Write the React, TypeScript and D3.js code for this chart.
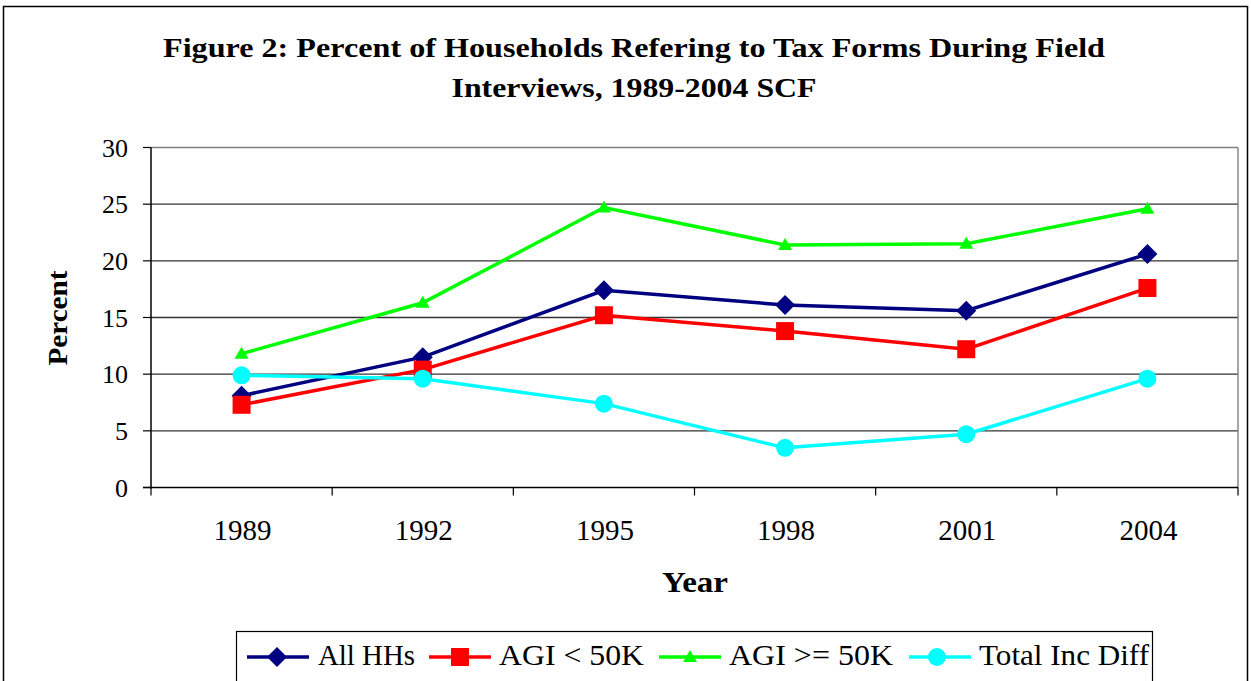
import React from "react";
import * as d3 from "d3";

const years = ["1989", "1992", "1995", "1998", "2001", "2004"];
const allHHs = [8.1, 11.5, 17.4, 16.1, 15.6, 20.6];
const agiLow = [7.3, 10.4, 15.2, 13.8, 12.2, 17.6];
const agiHigh = [11.8, 16.3, 24.7, 21.4, 21.5, 24.6];
const totalIncDiff = [9.9, 9.6, 7.4, 3.5, 4.7, 9.6];
const yTicks = [0, 5, 10, 15, 20, 25, 30];

const seriesNames = ["All HHs", "AGI < 50K", "AGI >= 50K", "Total Inc Diff"];
const seriesColors = ["#000080", "#FF0000", "#00FF00", "#00FFFF"];
const seriesShapes = ["diamond", "square", "triangle", "circle"];

const W = 1251;
const H = 681;
const left = 151;
const right = 1238;
const top = 147.5;
const bottom = 487.5;

function Marker({ shape, x, y, color }: { shape: string; x: number; y: number; color: string }) {
  if (shape === "diamond") {
    const s = 10;
    return <path d={`M${x},${y - s}L${x + s},${y}L${x},${y + s}L${x - s},${y}Z`} fill={color} />;
  }
  if (shape === "square") {
    return <rect x={x - 9} y={y - 9} width={18} height={18} fill={color} />;
  }
  if (shape === "triangle") {
    return <path d={`M${x},${y - 7}L${x + 7},${y + 5}L${x - 7},${y + 5}Z`} fill={color} />;
  }
  return <circle cx={x} cy={y} r={9} fill={color} />;
}

export default function App() {
  const x = d3.scaleBand<string>().domain(years).range([left, right]);
  const y = d3.scaleLinear().domain([0, 30]).range([bottom, top]);
  const data = [allHHs, agiLow, agiHigh, totalIncDiff];
  const line = d3
    .line<number>()
    .x((_, i) => (x(years[i]) as number) + x.bandwidth() / 2)
    .y((d) => y(d));

  const ff = { fontFamily: "Liberation Serif" };
  const boundaries = years.map((_, i) => left + i * x.bandwidth()).concat([right]);

  const legendItems = [
    { lx: 247, mx: 277, tx: 318, tw: 97 },
    { lx: 429, mx: 460, tx: 499, tw: 145 },
    { lx: 659, mx: 690, tx: 729, tw: 164 },
    { lx: 909, mx: 937, tx: 979, tw: 170 },
  ];

  return (
    <svg width={W} height={H} style={{ position: "absolute", left: 0, top: 0, background: "#fff" }}>
      <rect x={3.5} y={6.5} width={1244} height={690} fill="#fff" stroke="#000" strokeWidth={1.5} />
      <text style={ff} x={634} y={57} textAnchor="middle" fontWeight="bold" fontSize={28} textLength={942} lengthAdjust="spacingAndGlyphs">
        Figure 2: Percent of Households Refering to Tax Forms During Field
      </text>
      <text style={ff} x={634} y={97} textAnchor="middle" fontWeight="bold" fontSize={28} textLength={365} lengthAdjust="spacingAndGlyphs">
        Interviews, 1989-2004 SCF
      </text>

      {yTicks.map((t) => (
        <g key={t}>
          {t > 0 && (
            <line x1={left} x2={right} y1={y(t)} y2={y(t)} stroke={t === 30 ? "#808080" : "#333"} strokeWidth={1.3} />
          )}
          <line x1={left - 8} x2={left} y1={y(t)} y2={y(t)} stroke="#000" strokeWidth={1.2} />
          <text style={ff} x={128} y={y(t) + 9} textAnchor="end" fontSize={26}>
            {t}
          </text>
        </g>
      ))}
      <line x1={right} x2={right} y1={top} y2={bottom} stroke="#888" strokeWidth={1.5} />
      <line x1={left} x2={left} y1={top} y2={bottom + 1} stroke="#000" strokeWidth={1.5} />
      <line x1={left - 8} x2={right} y1={bottom} y2={bottom} stroke="#000" strokeWidth={1.5} />
      {boundaries.map((b, i) => (
        <line key={i} x1={b} x2={b} y1={bottom} y2={bottom + 8} stroke="#000" strokeWidth={1.2} />
      ))}
      {years.map((yr) => (
        <text style={ff} key={yr} x={(x(yr) as number) + x.bandwidth() / 2 + 1} y={540} textAnchor="middle" fontSize={29}>
          {yr}
        </text>
      ))}
      <text style={ff} x={695} y={592} textAnchor="middle" fontWeight="bold" fontSize={29} textLength={66} lengthAdjust="spacingAndGlyphs">
        Year
      </text>
      <text
        style={ff}
        transform="translate(67,318) rotate(-90)"
        textAnchor="middle"
        fontWeight="bold"
        fontSize={28}
        textLength={95}
        lengthAdjust="spacingAndGlyphs"
      >
        Percent
      </text>

      {data.map((vals, si) => (
        <g key={si}>
          <path d={line(vals) as string} fill="none" stroke={seriesColors[si]} strokeWidth={3.5} />
          {vals.map((v, i) => (
            <Marker
              key={i}
              shape={seriesShapes[si]}
              x={(x(years[i]) as number) + x.bandwidth() / 2}
              y={y(v)}
              color={seriesColors[si]}
            />
          ))}
        </g>
      ))}

      <rect x={236.5} y={631.5} width={916} height={60} fill="#fff" stroke="#000" strokeWidth={1.2} />
      {seriesNames.map((n, i) => (
        <g key={n}>
          <line x1={legendItems[i].lx} x2={legendItems[i].lx + 62} y1={657} y2={657} stroke={seriesColors[i]} strokeWidth={3.5} />
          <Marker shape={seriesShapes[i]} x={legendItems[i].mx} y={657} color={seriesColors[i]} />
          <text style={ff} x={legendItems[i].tx} y={665} fontSize={29} textLength={legendItems[i].tw} lengthAdjust="spacingAndGlyphs">
            {n}
          </text>
        </g>
      ))}
    </svg>
  );
}
